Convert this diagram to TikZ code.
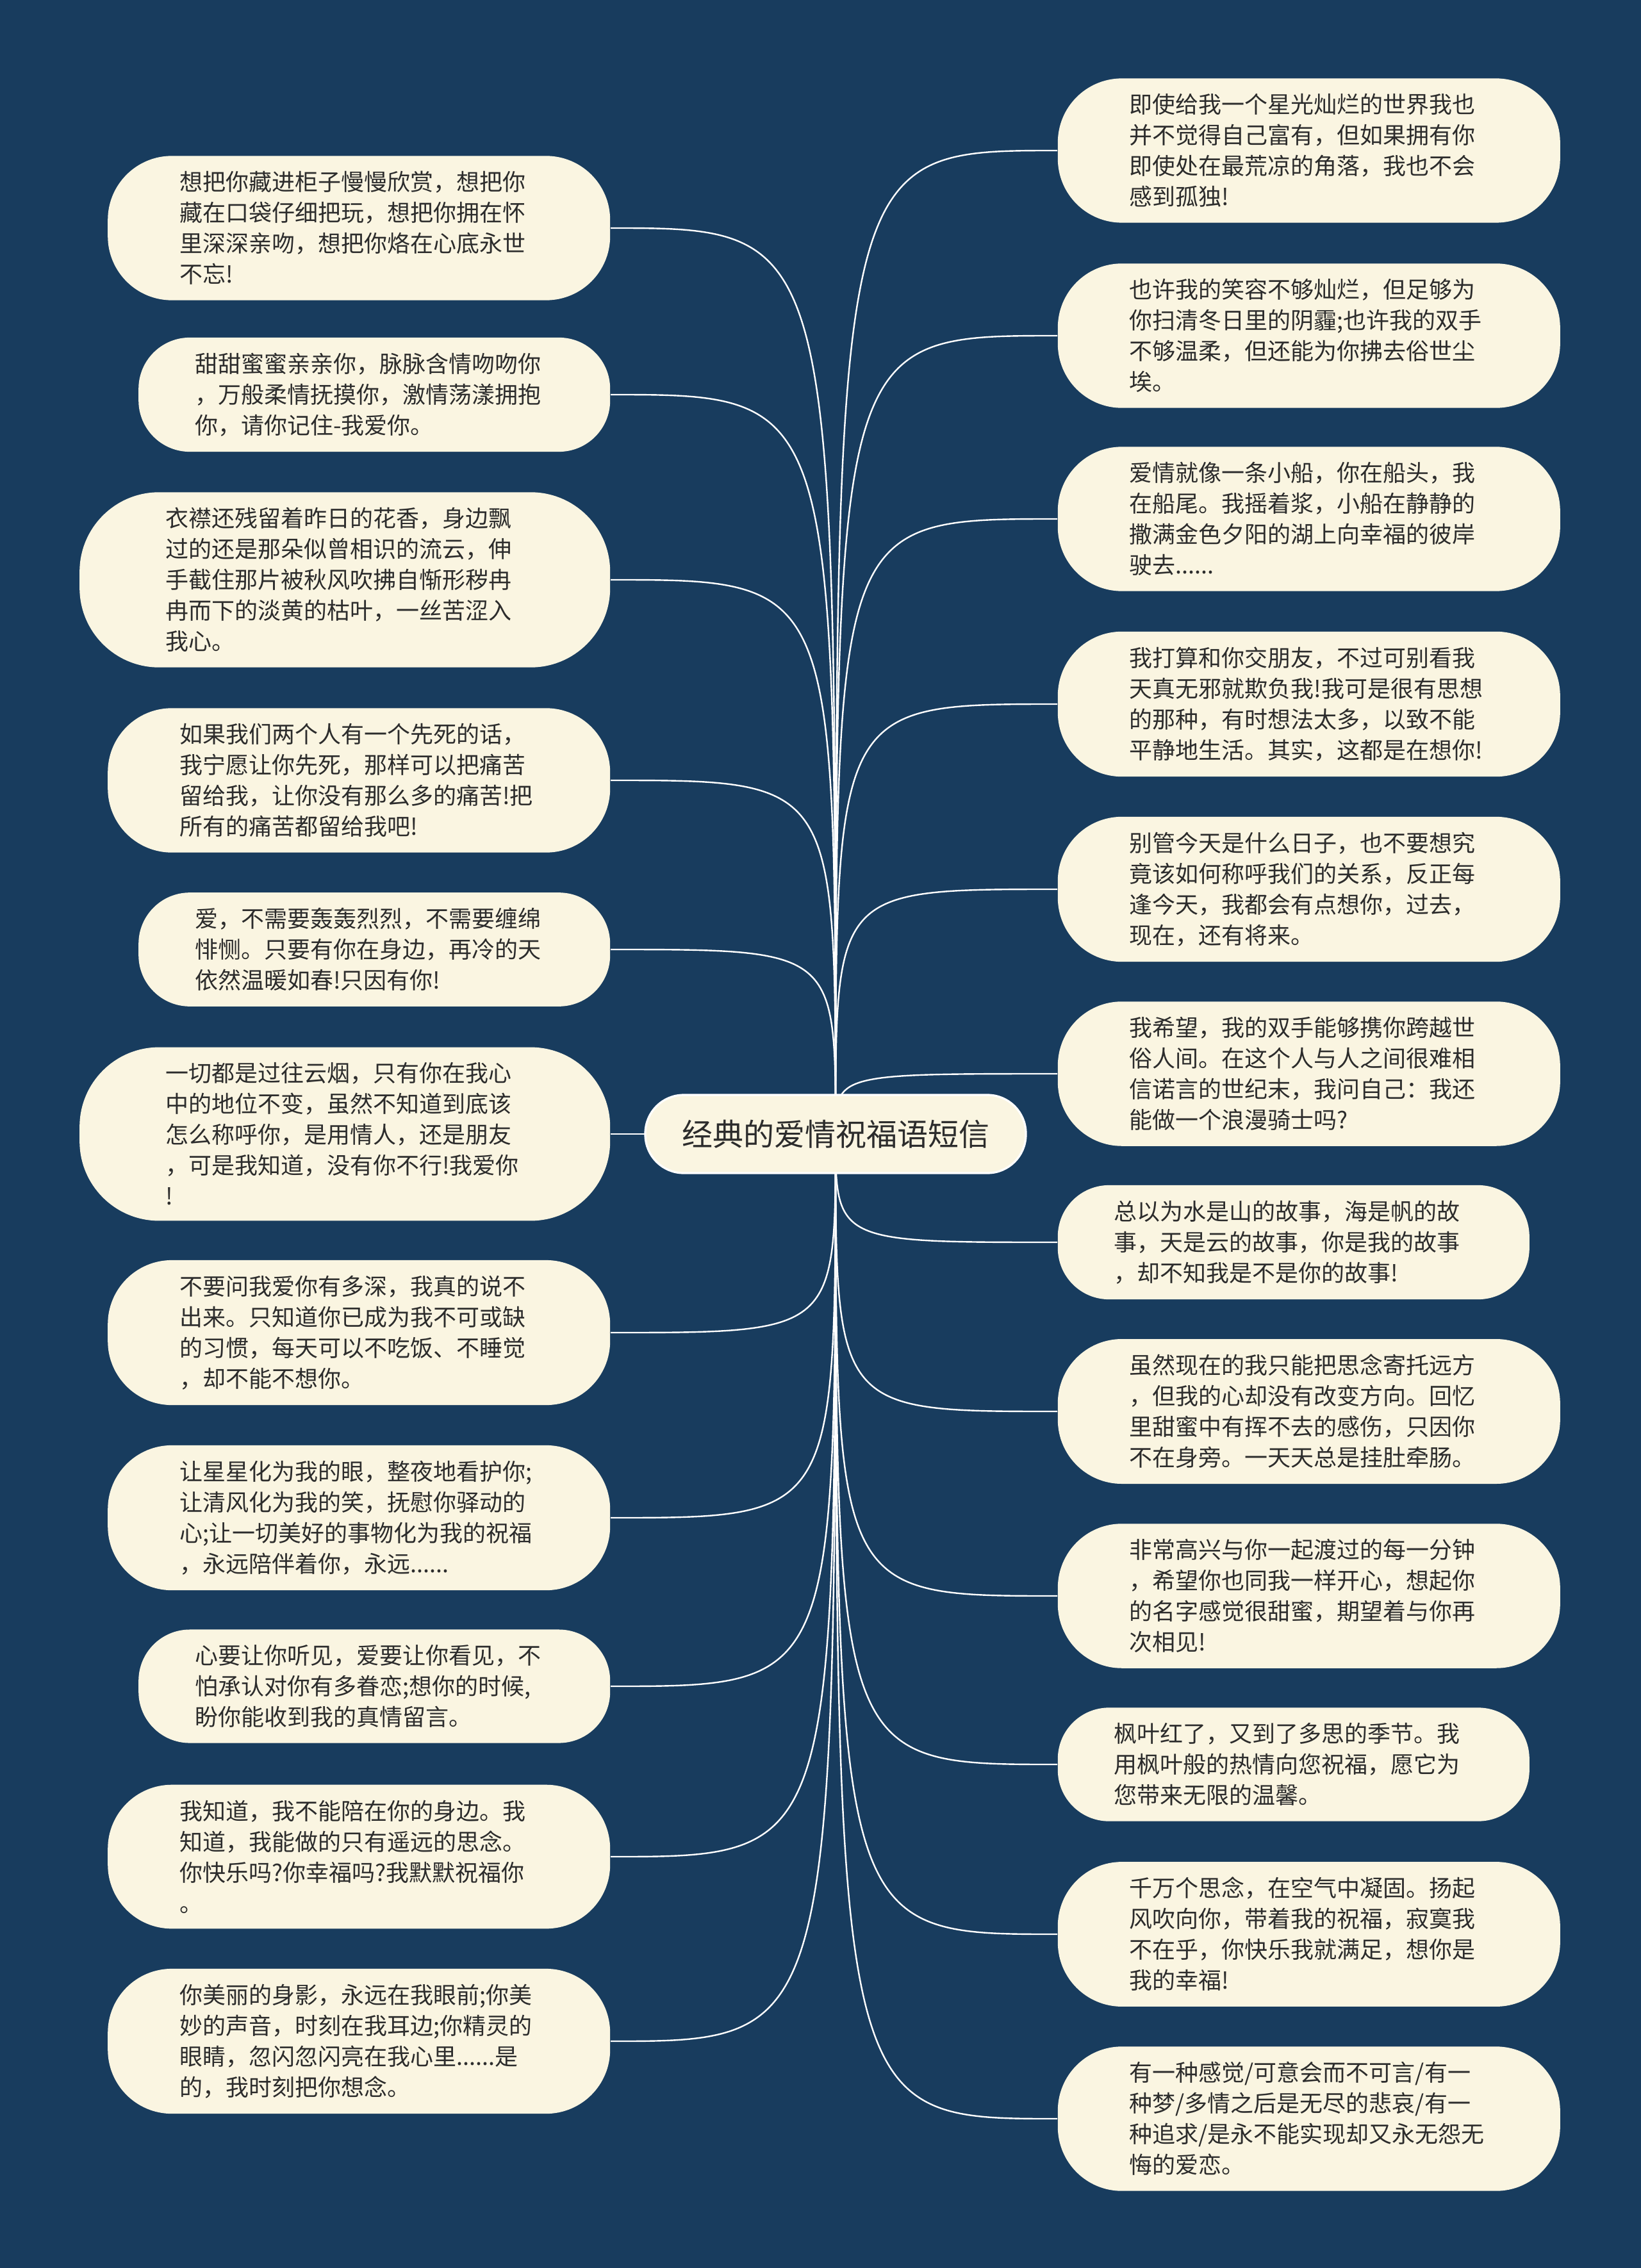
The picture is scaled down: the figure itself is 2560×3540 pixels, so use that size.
\documentclass[tikz,border=0pt]{standalone}
\usepackage{fontspec}
\setmainfont{Noto Sans CJK SC}
\usepackage{tikz}
\usepackage{xcolor}
\usetikzlibrary{backgrounds}

\definecolor{mapbg}{HTML}{183C5E}
\definecolor{cream}{HTML}{FAF5E1}
\definecolor{ink}{HTML}{2C2C2C}

\tikzset{
  leaf/.style={fill=cream, text=ink, align=left, text width=140pt,
    inner xsep=28pt, inner ysep=6pt, rounded corners=25pt,
    font=\fontsize{9pt}{12pt}\selectfont},
  broad/.style={inner xsep=33.5pt},
  slim/.style={inner xsep=22pt},
  lines3/.style={rounded corners=20pt},
  lines5/.style={rounded corners=31pt},
  topic/.style={fill=cream, draw=white, line width=0.8pt, text=ink,
    rounded corners=15pt, minimum width=148.5pt, minimum height=30.5pt,
    font=\fontsize{12pt}{14pt}\selectfont},
  link/.style={draw=white, line width=0.6pt}
}

\begin{document}
\begin{tikzpicture}[x=0.25pt, y=-0.25pt]
  \useasboundingbox (0,0) rectangle (2560,3540);
  % Central topic
  \node[topic] (root) at (1304,1770) {经典的爱情祝福语短信};
  % Left column
  \node[leaf, anchor=east] (l1) at (953,356)
    {想把你藏进柜子慢慢欣赏，想把你\\藏在口袋仔细把玩，想把你拥在怀\\里深深亲吻，想把你烙在心底永世\\不忘!};
  \node[leaf, slim, lines3, anchor=east] (l2) at (953,616)
    {甜甜蜜蜜亲亲你，脉脉含情吻吻你\\，万般柔情抚摸你，激情荡漾拥抱\\你，请你记住-我爱你。};
  \node[leaf, broad, lines5, anchor=east] (l3) at (953,905)
    {衣襟还残留着昨日的花香，身边飘\\过的还是那朵似曾相识的流云，伸\\手截住那片被秋风吹拂自惭形秽冉\\冉而下的淡黄的枯叶，一丝苦涩入\\我心。};
  \node[leaf, anchor=east] (l4) at (953,1218)
    {如果我们两个人有一个先死的话，\\我宁愿让你先死，那样可以把痛苦\\留给我，让你没有那么多的痛苦!把\\所有的痛苦都留给我吧!};
  \node[leaf, slim, lines3, anchor=east] (l5) at (953,1482)
    {爱，不需要轰轰烈烈，不需要缠绵\\悱恻。只要有你在身边，再冷的天\\依然温暖如春!只因有你!};
  \node[leaf, broad, lines5, anchor=east] (l6) at (953,1770)
    {一切都是过往云烟，只有你在我心\\中的地位不变，虽然不知道到底该\\怎么称呼你，是用情人，还是朋友\\，可是我知道，没有你不行!我爱你\\!};
  \node[leaf, anchor=east] (l7) at (953,2080)
    {不要问我爱你有多深，我真的说不\\出来。只知道你已成为我不可或缺\\的习惯，每天可以不吃饭、不睡觉\\，却不能不想你。};
  \node[leaf, anchor=east] (l8) at (953,2369)
    {让星星化为我的眼，整夜地看护你;\\让清风化为我的笑，抚慰你驿动的\\心;让一切美好的事物化为我的祝福\\，永远陪伴着你，永远......};
  \node[leaf, slim, lines3, anchor=east] (l9) at (953,2632)
    {心要让你听见，爱要让你看见，不\\怕承认对你有多眷恋;想你的时候,\\盼你能收到我的真情留言。};
  \node[leaf, anchor=east] (l10) at (953,2898)
    {我知道，我不能陪在你的身边。我\\知道，我能做的只有遥远的思念。\\你快乐吗?你幸福吗?我默默祝福你\\。};
  \node[leaf, anchor=east] (l11) at (953,3186)
    {你美丽的身影，永远在我眼前;你美\\妙的声音，时刻在我耳边;你精灵的\\眼睛，忽闪忽闪亮在我心里......是\\的，我时刻把你想念。};
  % Right column
  \node[leaf, anchor=west] (r1) at (1650,235)
    {即使给我一个星光灿烂的世界我也\\并不觉得自己富有，但如果拥有你\\即使处在最荒凉的角落，我也不会\\感到孤独!};
  \node[leaf, anchor=west] (r2) at (1650,524)
    {也许我的笑容不够灿烂，但足够为\\你扫清冬日里的阴霾;也许我的双手\\不够温柔，但还能为你拂去俗世尘\\埃。};
  \node[leaf, anchor=west] (r3) at (1650,810)
    {爱情就像一条小船，你在船头，我\\在船尾。我摇着浆，小船在静静的\\撒满金色夕阳的湖上向幸福的彼岸\\驶去......};
  \node[leaf, anchor=west] (r4) at (1650,1099)
    {我打算和你交朋友，不过可别看我\\天真无邪就欺负我!我可是很有思想\\的那种，有时想法太多，以致不能\\平静地生活。其实，这都是在想你!};
  \node[leaf, anchor=west] (r5) at (1650,1388)
    {别管今天是什么日子，也不要想究\\竟该如何称呼我们的关系，反正每\\逢今天，我都会有点想你，过去，\\现在，还有将来。};
  \node[leaf, anchor=west] (r6) at (1650,1676)
    {我希望，我的双手能够携你跨越世\\俗人间。在这个人与人之间很难相\\信诺言的世纪末，我问自己：我还\\能做一个浪漫骑士吗?};
  \node[leaf, slim, lines3, anchor=west] (r7) at (1650,1939)
    {总以为水是山的故事，海是帆的故\\事，天是云的故事，你是我的故事\\，却不知我是不是你的故事!};
  \node[leaf, anchor=west] (r8) at (1650,2203)
    {虽然现在的我只能把思念寄托远方\\，但我的心却没有改变方向。回忆\\里甜蜜中有挥不去的感伤，只因你\\不在身旁。一天天总是挂肚牵肠。};
  \node[leaf, anchor=west] (r9) at (1650,2491)
    {非常高兴与你一起渡过的每一分钟\\，希望你也同我一样开心，想起你\\的名字感觉很甜蜜，期望着与你再\\次相见!};
  \node[leaf, slim, lines3, anchor=west] (r10) at (1650,2754)
    {枫叶红了，又到了多思的季节。我\\用枫叶般的热情向您祝福，愿它为\\您带来无限的温馨。};
  \node[leaf, anchor=west] (r11) at (1650,3019)
    {千万个思念，在空气中凝固。扬起\\风吹向你，带着我的祝福，寂寞我\\不在乎，你快乐我就满足，想你是\\我的幸福!};
  \node[leaf, anchor=west] (r12) at (1650,3307)
    {有一种感觉/可意会而不可言/有一\\种梦/多情之后是无尽的悲哀/有一\\种追求/是永不能实现却又永无怨无\\悔的爱恋。};
  % Background and branches
  \begin{scope}[on background layer]
    \fill[mapbg] (-10,-10) rectangle (2570,3550);
    \foreach \i in {1,...,11} {
      \draw[link] (root.center) .. controls (root.center |- l\i.east) .. (l\i.east);
    }
    \foreach \i in {1,...,12} {
      \draw[link] (root.center) .. controls (root.center |- r\i.west) .. (r\i.west);
    }
  \end{scope}
\end{tikzpicture}
\end{document}
